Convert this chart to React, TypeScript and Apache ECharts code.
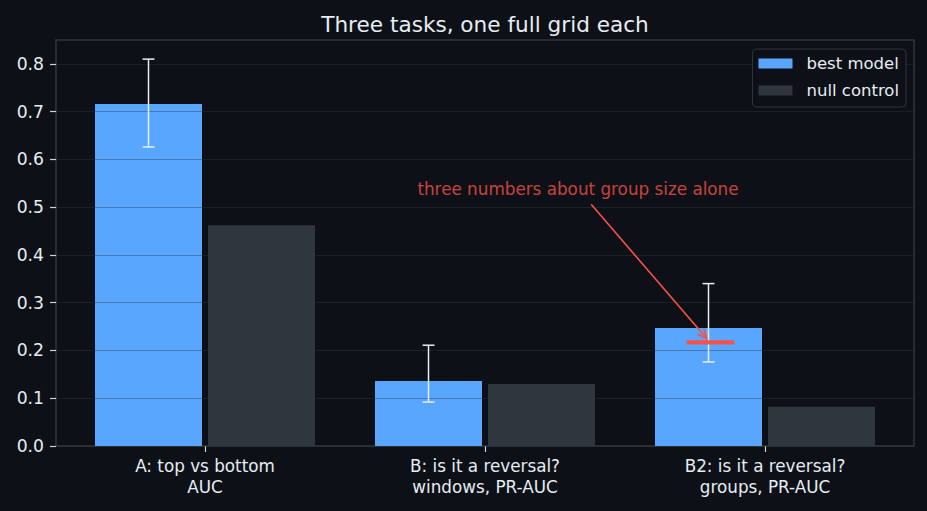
import { useEffect, useRef } from "react";
import * as echarts from "echarts";

const categories = [
  "A: top vs bottom\nAUC",
  "B: is it a reversal?\nwindows, PR-AUC",
  "B2: is it a reversal?\ngroups, PR-AUC",
];
const bestModel = [0.716, 0.136, 0.247];
const nullControl = [0.462, 0.13, 0.082];
const bestLow = [0.626, 0.092, 0.176];
const bestHigh = [0.81, 0.211, 0.34];
const yTicks = [0, 0.1, 0.2, 0.3, 0.4, 0.5, 0.6, 0.7, 0.8];

// group-size marker drawn over the B2 bar
const markerValue = 0.217;
const markerSpan = [1.72, 1.89];
const annotationText = "three numbers about group size alone";
const annotationAt = [1.332, 0.538];
const arrowFrom = [1.379, 0.506];
const arrowTo = [1.792, 0.225];

const BG = "#0d1117";
const FG = "#e6edf3";
const TICK = "#c9d1d9";
const EDGE = "#30363d";
const BLUE = "#58a6ff";
const RED = "#f85149";
const BAR_W = 107;
const BAR_GAP = 6;
const FONT = "DejaVu Sans";
const FS = 16.8;

export default function App() {
  const ref = useRef<HTMLDivElement | null>(null);

  useEffect(() => {
    document.body.style.margin = "0";
    document.body.style.background = BG;
    if (!ref.current) return;
    const chart = echarts.init(ref.current, undefined, { renderer: "svg" });
    const errOffset = -(BAR_W + BAR_GAP) / 2;

    chart.setOption({
      animation: false,
      backgroundColor: BG,
      textStyle: { fontFamily: FONT },
      title: {
        text: "Three tasks, one full grid each",
        left: 485,
        top: 13,
        padding: 0,
        textAlign: "center",
        textStyle: { color: FG, fontSize: 21.6, fontWeight: "normal", fontFamily: FONT },
      },
      legend: {
        data: ["best model", "null control"],
        orient: "vertical",
        right: 21,
        top: 49,
        padding: [6, 7, 8, 6],
        itemWidth: 34,
        itemHeight: 10,
        itemGap: 10,
        icon: "rect",
        backgroundColor: BG,
        borderColor: EDGE,
        borderWidth: 1,
        borderRadius: 4,
        textStyle: {
          color: FG,
          fontSize: 16.5,
          lineHeight: 16,
          fontFamily: FONT,
          padding: [0, 0, 0, 9],
        },
      },
      grid: [
        { left: 65, right: 22, top: 40, bottom: 65, outerBoundsMode: "none" },
        {
          left: 56,
          right: 13,
          top: 40,
          bottom: 65,
          show: true,
          borderColor: EDGE,
          borderWidth: 1.5,
          backgroundColor: "transparent",
          outerBoundsMode: "none",
        },
      ],
      xAxis: [
        {
          type: "category",
          gridIndex: 0,
          data: categories,
          axisLine: { show: false },
          axisTick: { show: true, alignWithLabel: true, length: 6, lineStyle: { color: TICK, width: 1.2 } },
          axisLabel: { color: FG, fontSize: FS, lineHeight: 21, margin: 9, fontFamily: FONT },
          splitLine: { show: false },
        },
        { type: "value", gridIndex: 0, min: -0.5, max: 2.5, show: false },
        { type: "value", gridIndex: 1, min: 0, max: 1, show: false },
      ],
      yAxis: [
        { type: "value", gridIndex: 0, min: 0, max: 0.85, show: false },
        {
          type: "value",
          gridIndex: 1,
          min: 0,
          max: 0.85,
          z: 3,
          axisLine: { show: false },
          axisTick: { show: true, length: 6, customValues: yTicks, lineStyle: { color: TICK, width: 1.2 } },
          axisLabel: {
            color: FG,
            fontSize: 17.2,
            margin: 12,
            customValues: yTicks,
            fontFamily: FONT,
            formatter: (v: number) => v.toFixed(1),
          },
          splitLine: { show: true, lineStyle: { color: "rgba(48,54,61,0.4)", width: 1 } },
        },
      ],
      series: [
        {
          name: "best model",
          type: "bar",
          xAxisIndex: 0,
          yAxisIndex: 0,
          data: bestModel,
          barWidth: BAR_W,
          barGap: `${(BAR_GAP / BAR_W) * 100}%`,
          itemStyle: { color: BLUE },
          z: 2,
        },
        {
          name: "null control",
          type: "bar",
          xAxisIndex: 0,
          yAxisIndex: 0,
          data: nullControl,
          barWidth: BAR_W,
          itemStyle: { color: EDGE },
          z: 2,
        },
        {
          type: "custom",
          xAxisIndex: 0,
          yAxisIndex: 0,
          z: 5,
          silent: true,
          data: categories.map((_, i) => [i, bestLow[i], bestHigh[i]]),
          encode: { x: 0, y: [1, 2] },
          renderItem: (_params: any, api: any) => {
            const idx = api.value(0);
            const x = api.coord([idx, 0])[0] + errOffset;
            const yLo = api.coord([idx, api.value(1)])[1];
            const yHi = api.coord([idx, api.value(2)])[1];
            const style = { stroke: FG, lineWidth: 1.5 };
            return {
              type: "group",
              children: [
                { type: "line", shape: { x1: x, y1: yLo, x2: x, y2: yHi }, style },
                { type: "line", shape: { x1: x - 6, y1: yHi, x2: x + 6, y2: yHi }, style },
                { type: "line", shape: { x1: x - 6, y1: yLo, x2: x + 6, y2: yLo }, style },
              ],
            };
          },
        },
        {
          type: "line",
          xAxisIndex: 1,
          yAxisIndex: 0,
          z: 6,
          silent: true,
          symbol: "none",
          data: markerSpan.map((x) => [x, markerValue]),
          lineStyle: { color: RED, width: 4.3 },
        },
        {
          // annotation arrow with an open "->" head
          type: "custom",
          xAxisIndex: 1,
          yAxisIndex: 0,
          z: 7,
          silent: true,
          data: [[arrowFrom[0], arrowFrom[1], arrowTo[0], arrowTo[1]]],
          encode: { x: [0, 2], y: [1, 3] },
          renderItem: (_params: any, api: any) => {
            const p0 = api.coord([api.value(0), api.value(1)]);
            const p1 = api.coord([api.value(2), api.value(3)]);
            const ang = Math.atan2(p1[1] - p0[1], p1[0] - p0[0]);
            const len = 10;
            const spread = 0.42;
            const a = [p1[0] - len * Math.cos(ang - spread), p1[1] - len * Math.sin(ang - spread)];
            const b = [p1[0] - len * Math.cos(ang + spread), p1[1] - len * Math.sin(ang + spread)];
            const style = { stroke: RED, lineWidth: 1.6, fill: "none" };
            return {
              type: "group",
              children: [
                { type: "line", shape: { x1: p0[0], y1: p0[1], x2: p1[0], y2: p1[1] }, style },
                { type: "polyline", shape: { points: [a, p1, b] }, style },
              ],
            };
          },
        },
        {
          type: "scatter",
          xAxisIndex: 1,
          yAxisIndex: 0,
          z: 6,
          silent: true,
          symbolSize: 0,
          data: [annotationAt],
          label: {
            show: true,
            position: "inside",
            formatter: annotationText,
            color: RED,
            fontSize: FS,
            fontFamily: FONT,
          },
        },
      ],
    });

    return () => {
      chart.dispose();
    };
  }, []);

  return <div ref={ref} style={{ width: 927, height: 511, background: BG }} />;
}
